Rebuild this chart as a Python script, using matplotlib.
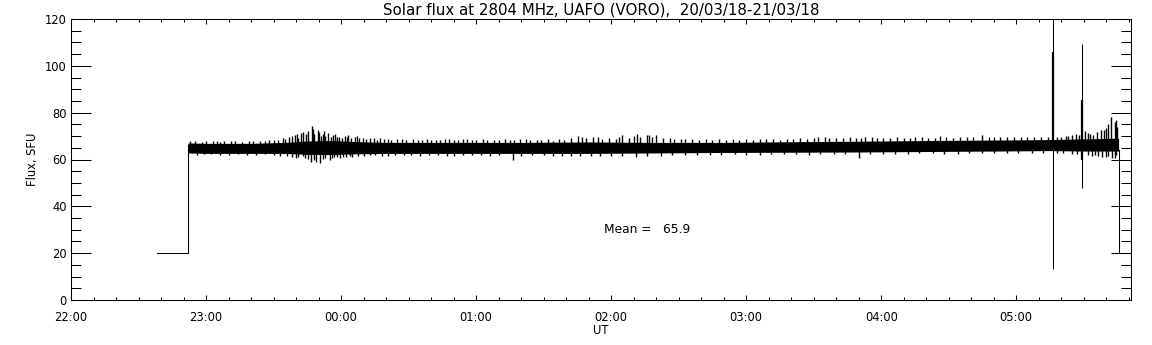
import matplotlib
matplotlib.use("Agg")
import matplotlib.pyplot as plt
from matplotlib.ticker import MultipleLocator

plt.rcParams["font.family"] = ["DejaVu Sans"]

# time axis: minutes after 22:00 UT
hour_ticks = [0, 60, 120, 180, 240, 300, 360, 420]
hour_labels = ["22:00", "23:00", "00:00", "01:00", "02:00", "03:00", "04:00", "05:00"]

# calibration level before / after the record
cal_t = [38, 52, 52]
cal_v = [20, 20, 66]
end_t = [465.5, 465.5, 471]
end_v = [64, 20, 20]

# dense core of the noisy flux record (lower / upper edge)
core_t = [52, 60, 80, 95, 105, 115, 125, 140, 160, 180, 200, 230, 260, 290,
          320, 350, 380, 410, 435, 450, 465.5]
core_lo = [62.8, 62.6, 62.6, 62.6, 62.2, 62.1, 62.4, 62.6, 62.6, 62.6, 62.6,
           62.6, 62.8, 63.0, 63.1, 63.2, 63.4, 63.6, 63.8, 63.6, 63.6]
core_hi = [67.1, 66.9, 66.9, 67.3, 67.9, 68.1, 67.7, 67.3, 67.3, 67.3, 67.3,
           67.5, 67.3, 67.3, 67.6, 67.8, 68.1, 68.3, 68.5, 68.8, 69.1]

# upward excursions
up_t = [53, 58, 63, 66, 71, 76, 79, 84, 88, 92, 95, 97, 99.6, 101, 102, 103,
        104.5, 106.9, 108, 109.6, 111, 111.8, 113, 114.4, 115.5, 116.6, 118,
        119, 120.5, 121.6, 123.3, 124.5, 126, 128, 129.8, 131, 133, 136, 139,
        142, 145, 149, 152, 156, 160, 164, 168, 172, 176, 180, 185, 190, 195,
        199.5, 204, 209, 214, 219, 225.5, 229, 232, 236, 242, 245, 248, 251.4,
        253, 255.8, 258, 260, 263, 268, 273, 279, 285, 291, 297, 303, 309, 315,
        321, 327, 332, 337, 343, 349, 353, 358, 364, 370, 375, 381, 386, 392,
        398, 405, 410, 416, 422, 428, 440, 443, 446.4, 451.9, 454, 457.8, 460,
        462.2, 463.7, 464.5,
        55, 60, 65, 68, 73, 81, 86, 90, 94, 98, 100.5, 105.5, 107.5, 110.3,
        112.5, 117.3, 122.5, 127, 134.5, 137.5, 141, 147, 154, 158, 162, 166,
        170, 174, 178, 183, 188, 193, 197, 202, 207, 212, 217, 222, 227, 234,
        239, 243.5, 250, 256.8, 266, 271, 276, 282, 288, 294, 300, 306, 312,
        318, 324, 330, 335, 340, 346, 351, 356, 361, 367, 373, 378, 384, 389,
        395, 401, 408, 413, 419, 425, 431, 434, 438, 442, 445, 448, 450.5, 453,
        456, 459, 461, 465]
up_v = [68.0, 67.6, 67.8, 67.5, 67.8, 67.6, 68.0, 67.7, 68.2, 68.4, 68.8, 69.5,
        70.5, 69.0, 71.4, 71.8, 70.8, 74.4, 71.0, 72.6, 70.0, 71.1, 70.2, 71.4,
        69.8, 70.5, 69.5, 69.8, 69.0, 70.0, 70.5, 69.2, 69.8, 69.0, 69.1, 68.6,
        69.0, 68.5, 68.8, 68.4, 68.6, 68.3, 68.8, 68.2, 68.5, 68.2, 68.6, 68.4,
        68.8, 68.3, 68.5, 68.2, 68.3, 68.9, 68.2, 68.4, 68.1, 68.3, 70.0, 69.0,
        69.5, 68.8, 68.9, 70.3, 69.2, 70.9, 69.6, 70.3, 69.4, 70.3, 69.0, 68.6,
        68.8, 68.4, 68.5, 68.3, 68.5, 68.4, 68.6, 68.5, 68.7, 68.6, 69.6, 69.2,
        69.0, 69.3, 69.5, 69.0, 69.2, 69.0, 69.4, 69.1, 70.0, 69.3, 69.5, 70.4,
        69.6, 69.5, 69.8, 69.4, 69.8, 70.2, 70.9, 71.4, 70.6, 72.6, 73.5, 78.3,
        76.2, 77.0,
        67.9, 67.7, 68.1, 67.8, 68.0, 67.9, 68.1, 68.3, 69.0, 70.2, 71.0, 72.3,
        73.0, 71.8, 72.0, 71.0, 69.6, 70.2, 69.0, 69.3, 68.6, 68.9, 68.5, 68.9,
        68.4, 68.7, 68.3, 68.9, 68.5, 68.7, 68.4, 68.8, 68.5, 68.9, 68.5, 68.7,
        68.6, 69.2, 69.6, 69.8, 69.0, 69.5, 69.9, 70.6, 69.2, 68.7, 68.9, 68.6,
        68.8, 68.6, 68.9, 68.7, 68.9, 68.8, 69.0, 69.1, 69.4, 69.0, 69.4, 69.2,
        69.6, 69.3, 69.5, 69.2, 69.6, 69.3, 69.5, 69.7, 69.4, 69.8, 69.5, 69.7,
        69.6, 69.8, 69.5, 69.7, 69.9, 70.5, 70.4, 72.0, 71.0, 71.8, 72.5, 75.0,
        74.0]

# downward excursions
dn_t = [56, 62, 70, 78, 86, 93, 98, 101, 104, 106.7, 108.9, 110.5, 113, 114.9,
        117, 119.5, 122, 125, 130, 135, 141, 148, 155, 163, 170, 178, 186,
        196.6, 205, 214, 222, 231, 240, 251, 262, 273, 284, 295, 306, 317, 328,
        339, 350, 361, 372, 383, 394, 405, 416, 427, 438, 445, 451.9, 455, 458,
        461, 463.7,
        59, 66, 74, 82, 90, 96, 100, 103, 105.5, 107.8, 112, 116, 118.3, 121,
        124, 127.5, 133, 138, 144, 151, 159, 167, 174, 182, 190, 200, 210, 218,
        226, 235, 245, 256, 267, 278, 289, 300, 311, 322, 333, 344, 355, 366,
        377, 388, 399, 410, 421, 432, 441, 447, 453.5, 456.5, 460, 462.5, 464.5]
dn_v = [62.0, 62.2, 61.8, 62.0, 62.2, 61.5, 61.2, 61.0, 60.5, 59.0, 59.0, 58.4,
        60.8, 59.8, 61.0, 60.5, 61.2, 61.0, 61.6, 61.8, 61.5, 61.9, 61.6, 61.8,
        61.7, 61.9, 61.6, 59.8, 61.8, 61.6, 61.7, 61.4, 61.6, 61.2, 61.6, 62.0,
        61.8, 62.2, 62.0, 62.3, 62.1, 62.3, 60.6, 62.4, 62.3, 62.6, 62.5, 62.8,
        62.6, 62.8, 62.7, 62.4, 61.9, 62.0, 60.9, 61.5, 60.5,
        62.3, 62.1, 62.3, 62.0, 61.8, 61.4, 60.8, 61.3, 60.2, 60.0, 60.4, 60.6,
        61.2, 61.0, 61.5, 61.4, 61.8, 61.7, 61.9, 61.8, 62.0, 61.7, 62.0, 61.8,
        61.9, 61.6, 61.8, 61.5, 61.6, 61.3, 61.5, 61.6, 61.8, 62.0, 62.1, 62.0,
        62.2, 62.3, 62.2, 62.4, 62.3, 62.5, 62.6, 62.5, 62.7, 62.8, 62.7, 62.9,
        62.6, 62.2, 61.4, 61.6, 61.0, 60.5, 61.8]

# two strong bursts near 05:16 and 05:29
burst_t = [436.2, 449.3]
burst_top = [125.0, 109.3]
burst_bot = [13.2, 48.0]
burst_core_top = [106.0, 85.4]
burst_core_bot = [64.0, 60.0]

mean_flux = 65.9

fig = plt.figure(figsize=(11.52, 3.45), dpi=100)
ax = fig.add_axes([71 / 1152, 45 / 345, 1060 / 1152, 281 / 345])

lw = 0.75
ax.plot(cal_t, cal_v, color="black", lw=lw)
ax.plot(end_t, end_v, color="black", lw=lw)
ax.fill_between(core_t, core_lo, core_hi, color="black", lw=0)
ax.vlines(up_t, 66, up_v, color="black", lw=1.0)
ax.vlines(dn_t, 64, dn_v, color="black", lw=1.0)
ax.vlines(burst_t, burst_bot, burst_top, color="black", lw=lw)
ax.vlines(burst_t, burst_core_bot, burst_core_top, color="black", lw=1.6)

ax.text(237, 30, "Mean =   %.1f" % mean_flux, fontsize=8.8, va="center")

ax.set_xlim(0, 471)
ax.set_ylim(0, 120)
ax.set_xticks(hour_ticks)
ax.set_xticklabels(hour_labels)
ax.xaxis.set_minor_locator(MultipleLocator(10))
ax.yaxis.set_major_locator(MultipleLocator(20))
ax.yaxis.set_minor_locator(MultipleLocator(5))

ax.tick_params(axis="both", which="both", direction="in", top=True, right=True,
               width=lw, labelsize=8.3, color="black")
ax.tick_params(axis="x", which="major", length=3.8, pad=8)
ax.tick_params(axis="x", which="minor", length=2.2)
ax.tick_params(axis="y", which="major", length=14.4, pad=3)
ax.tick_params(axis="y", which="minor", length=7.2)
for s in ax.spines.values():
    s.set_linewidth(lw)

ax.set_xlabel("UT", fontsize=8.3, labelpad=0)
ax.set_ylabel("Flux, SFU", fontsize=8.3, labelpad=4)
ax.set_title("Solar flux at 2804 MHz, UAFO (VORO),  20/03/18-21/03/18",
             fontsize=10.8, pad=3)

fig.savefig("out.png", dpi=100)
